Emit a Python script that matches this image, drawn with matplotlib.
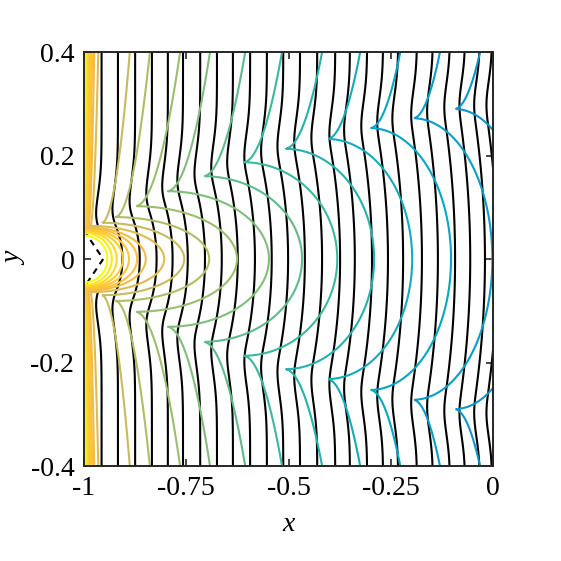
import numpy as np
import matplotlib
matplotlib.use("Agg")
import matplotlib.pyplot as plt
from matplotlib.colors import LinearSegmentedColormap

# parula-like colour map (MATLAB default), a few anchors
parula_rgb = [(0.2081, 0.1663, 0.5292), (0.0117, 0.3875, 0.8820), (0.0793, 0.5200, 0.8312),
              (0.0228, 0.6535, 0.7768), (0.2178, 0.7250, 0.6193), (0.5709, 0.7485, 0.4494),
              (0.8507, 0.7299, 0.3360), (0.9938, 0.7455, 0.2403), (0.9788, 0.8271, 0.1633),
              (0.9763, 0.9831, 0.0538)]
parula_pos = [0, 8/63, 16/63, 24/63, 32/63, 40/63, 48/63, 52/63, 56/63, 1]
parula = LinearSegmentedColormap.from_list("parula", list(zip(parula_pos, parula_rgb)))

# coloured contours (upper half, mirrored below):
# cusp point, where the arc crosses y=0, where the branch meets y=0.4
cusp_x = [-0.998, -0.997, -0.996, -0.995, -0.994, -0.992, -0.99, -0.985,
          -0.957, -0.924, -0.875, -0.797, -0.709, -0.611, -0.509, -0.406, -0.301, -0.196, -0.095]
cusp_y = [0.045, 0.05, 0.053, 0.055, 0.057, 0.059, 0.061, 0.064,
          0.070, 0.081, 0.102, 0.131, 0.160, 0.187, 0.213, 0.232, 0.253, 0.272, 0.290]
cross_x = [-0.943, -0.932, -0.92, -0.905, -0.89, -0.87, -0.849, -0.804,
           -0.755, -0.694, -0.626, -0.548, -0.467, -0.381, -0.291, -0.198, -0.103, -0.002, 0.09]
top_x = [-0.996, -0.993, -0.99, -0.987, -0.984, -0.98, -0.975, -0.965,
         -0.888, -0.839, -0.765, -0.692, -0.606, -0.516, -0.418, -0.325, -0.227, -0.130, -0.032]
level_c = [1.0, 0.95, 0.9, 0.87, 0.85, 0.83, 0.8, 0.77,
           0.73, 0.69, 0.65, 0.61, 0.56, 0.51, 0.46, 0.42, 0.38, 0.35, 0.32]

# black lines: x position at the top edge
black_top = [-0.957, -0.917, -0.875, -0.834, -0.795, -0.758, -0.716, -0.675, -0.636,
             -0.594, -0.553, -0.513, -0.472, -0.430, -0.386, -0.350, -0.308, -0.269,
             -0.232, -0.186, -0.147, -0.105, -0.068, -0.032, -0.002]
bow_mid = 0.012   # shift to the right on y=0
bow_dip = 0.016   # shift to the left at the cusp line

# dashed lines from the wall to the source
src_x = [-1.0, -0.953, -1.0]
src_y = [0.055, 0.0, -0.055]

plt.rcParams['font.family'] = ['Liberation Serif', 'DejaVu Serif']

fig = plt.figure(figsize=(5.61, 5.61), dpi=100)
ax = fig.add_axes([0.1497, 0.1693, 0.7294, 0.738])

xx = np.linspace(-1, 0, 1400)
yy = np.linspace(-0.4, 0.4, 1200)
X, Y = np.meshgrid(xx, yy)
AY = np.abs(Y)

# black family: vertical lines bowed to the right inside the cusp line
Yc = np.interp(X, cusp_x[8:], cusp_y[8:])
s = AY / Yc
D = np.where(s < 1, (bow_mid + bow_dip) * (1 - s**2) - bow_dip,
             -bow_dip * np.exp(-((AY - Yc) / 0.07)**2))
dy = yy[1] - yy[0]
n = 70
ker = np.exp(-0.5 * (np.arange(-n, n + 1) * dy / 0.018)**2)
ker /= ker.sum()
Dp = np.pad(D, ((n, n), (0, 0)), mode='edge')
D = np.apply_along_axis(lambda c: np.convolve(c, ker, mode='valid'), 0, Dp)
P = np.ma.masked_where((X < -0.93) & (AY < 0.062), X - D)
ax.contour(X, Y, P, levels=black_top, colors='k', linewidths=1.5,
           negative_linestyles='solid')

ax.plot(src_x, src_y, color='k', lw=1.5, dashes=(3, 2.5))

# coloured family: right half of an ellipse joined to a branch at the cusp
for k in range(len(cusp_x)):
    a = cross_x[k] - cusp_x[k]
    b = cusp_y[k]
    E = (np.sqrt(((X - cusp_x[k]) / a)**2 + (Y / b)**2) - 1) * min(a, b)
    h = np.clip((AY - b) / (0.4 - b), 0, None)
    B = X - cusp_x[k] - (top_x[k] - cusp_x[k]) * np.sqrt(h)
    ax.contour(X, Y, np.minimum(E, B), levels=[0], colors=[parula(level_c[k])],
               linewidths=1.5)

ax.set_xlim(-1, 0)
ax.set_ylim(-0.4, 0.4)
ax.set_xticks([-1, -0.75, -0.5, -0.25, 0])
ax.set_xticklabels(['-1', '-0.75', '-0.5', '-0.25', '0'])
ax.set_yticks([-0.4, -0.2, 0, 0.2, 0.4])
ax.set_yticklabels(['-0.4', '-0.2', '0', '0.2', '0.4'])
ax.tick_params(direction='in', length=5, width=1.2, top=True, right=True,
               labelsize=20, color='0.15', pad=7)
for sp in ax.spines.values():
    sp.set_linewidth(1.4)
    sp.set_color('0.15')
ax.set_xlabel('x', fontsize=20, style='italic', labelpad=8)
ax.set_ylabel('y', fontsize=20, style='italic', labelpad=2)

fig.savefig('out.png', dpi=100)
